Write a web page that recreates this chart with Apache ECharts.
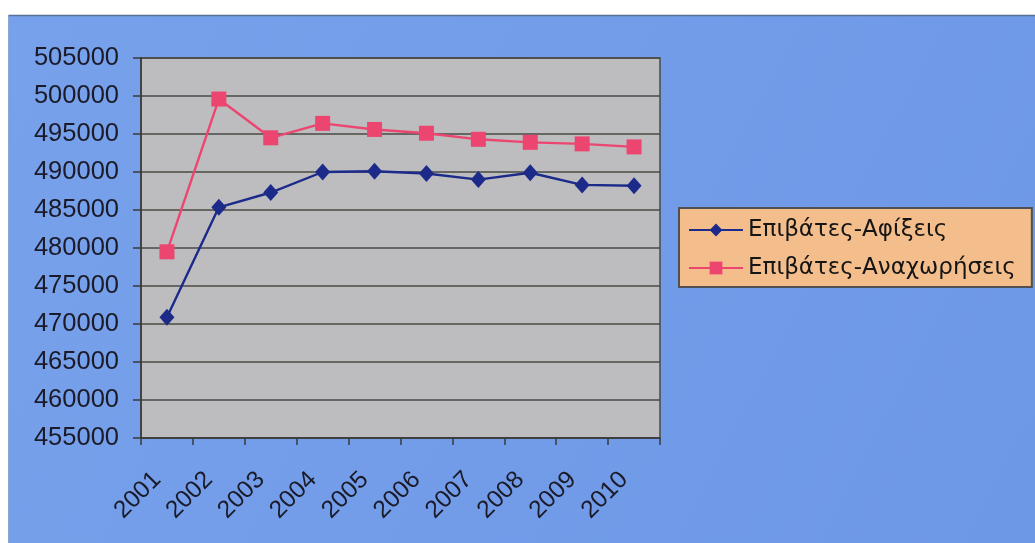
<!DOCTYPE html>
<html>
<head>
<meta charset="utf-8">
<script src="https://cdn.jsdelivr.net/npm/echarts@6/dist/echarts.min.js"></script>
<style>
html,body{margin:0;padding:0;background:#fff;}
#c{width:1035px;height:543px;}
</style>
</head>
<body>
<div id="c"></div>
<script>
const years = ['2001','2002','2003','2004','2005','2006','2007','2008','2009','2010'];
const arrivalsName = 'Επιβάτες-Αφίξεις';
const departuresName = 'Επιβάτες-Αναχωρήσεις';
const arrivals = [470900, 485350, 487300, 490000, 490100, 489800, 489000, 489900, 488300, 488200];
const departures = [479500, 499600, 494500, 496400, 495600, 495100, 494300, 493900, 493700, 493300];
const yMin = 455000, yMax = 505000, yStep = 5000;

const chart = echarts.init(document.getElementById('c'));
const font = 'Liberation Sans, Arial, sans-serif';
chart.setOption({
  backgroundColor: '#ffffff',
  animation: false,
  graphic: [{
    type: 'rect', z: -10, silent: true,
    shape: {x: 8, y: 15, width: 1027, height: 528},
    style: {
      fill: new echarts.graphic.LinearGradient(0, 0, 1, 1, [
        {offset: 0, color: '#78a1eb'},
        {offset: 1, color: '#6d98e6'}
      ])
    }
  }, {
    type: 'line', z: -9, silent: true,
    shape: {x1: 8, y1: 15.5, x2: 1035, y2: 15.5},
    style: {stroke: '#5a6f98', lineWidth: 1.5}
  }, {
    type: 'line', z: -9, silent: true,
    shape: {x1: 8.5, y1: 15, x2: 8.5, y2: 543},
    style: {stroke: '#8aa6d6', lineWidth: 1}
  }],
  grid: {
    left: 141, top: 58, width: 519, height: 380,
    show: true, backgroundColor: '#bdbdbf', borderColor: '#4a4a48', borderWidth: 1.5
  },
  legend: {
    left: 679, top: 208,
    orient: 'vertical',
    backgroundColor: '#f4be8c',
    borderColor: '#505050', borderWidth: 2,
    padding: [9, 16, 6, 9],
    itemWidth: 54, itemHeight: 16, itemGap: 12,
    textStyle: {fontFamily: 'DejaVu Sans, sans-serif', fontSize: 23, color: '#151515', lineHeight: 26},
    data: [arrivalsName, departuresName]
  },
  xAxis: {
    type: 'category', data: years, boundaryGap: true,
    axisLine: {show: true, lineStyle: {color: '#3a3a3a', width: 1.5}},
    axisTick: {show: true, length: 7, interval: 0, lineStyle: {color: '#3a3a3a', width: 1.5}},
    axisLabel: {rotate: 45, interval: 0, margin: 28, padding: [0, 14, 0, 0], fontFamily: font, fontSize: 24.5, color: '#1a1a28'},
    splitLine: {show: false}
  },
  yAxis: {
    type: 'value', min: yMin, max: yMax, interval: yStep,
    axisLine: {show: true, lineStyle: {color: '#3a3a3a', width: 1.5}},
    axisTick: {show: true, length: 8, lineStyle: {color: '#3a3a3a', width: 1.5}},
    axisLabel: {margin: 22, fontFamily: font, fontSize: 25.5, color: '#1a1a28', formatter: v => String(v)},
    splitLine: {show: true, lineStyle: {color: '#4a4a44', width: 1.5}}
  },
  series: [{
    name: arrivalsName, type: 'line', data: arrivals,
    symbol: 'diamond', symbolSize: [15, 17],
    lineStyle: {color: '#1c2a8a', width: 2.4},
    itemStyle: {color: '#1c2a8a'}
  }, {
    name: departuresName, type: 'line', data: departures,
    symbol: 'rect', symbolSize: 15,
    lineStyle: {color: '#ec4670', width: 2.4},
    itemStyle: {color: '#ec4670'}
  }]
});
</script>
</body>
</html>
